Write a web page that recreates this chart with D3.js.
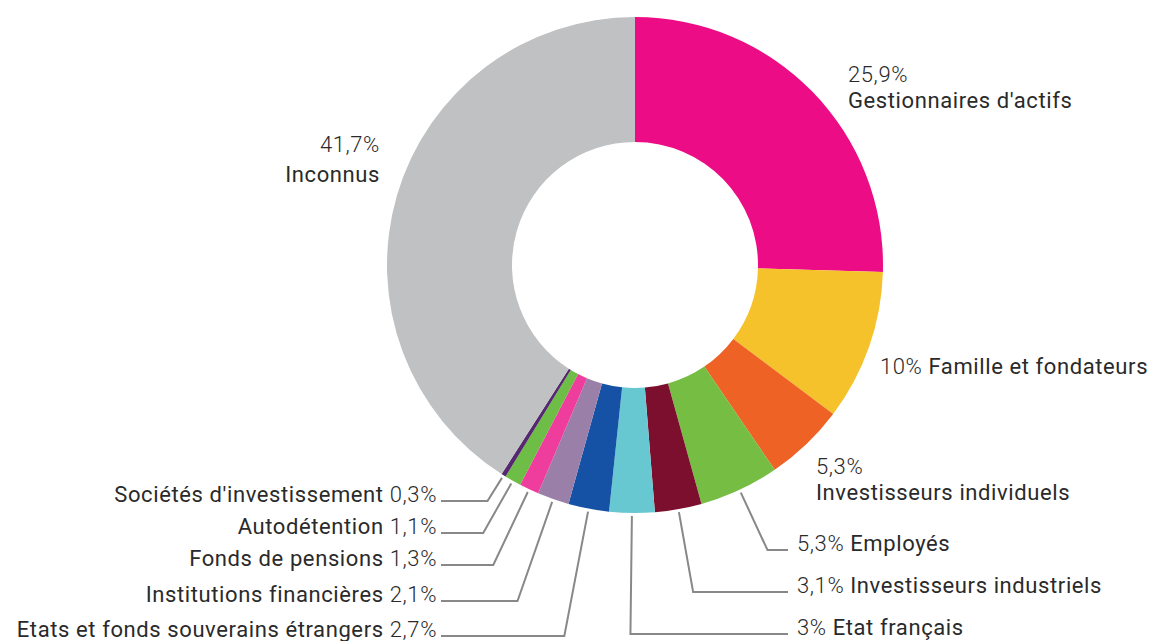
<!DOCTYPE html>
<html>
<head>
<meta charset="utf-8">
<script src="https://cdn.jsdelivr.net/npm/d3@7"></script>
<style>
  body { margin: 0; background: #fff; }
  text { font-family: Roboto, "Noto Sans", sans-serif; fill: #2a2a2a; letter-spacing: 0.6px; }
</style>
</head>
<body>
<div id="canvas"></div>
<script>
// data
var names = ["Gestionnaires d'actifs", "Famille et fondateurs", "Investisseurs individuels", "Employés",
  "Investisseurs industriels", "Etat français", "Etats et fonds souverains étrangers",
  "Institutions financières", "Fonds de pensions", "Autodétention", "Sociétés d'investissement", "Inconnus"];
var values = [25.9, 10, 5.3, 5.3, 3.1, 3, 2.7, 2.1, 1.3, 1.1, 0.3, 41.7];
var colors = ["#ec0c86", "#f6c22c", "#ee6225", "#75be43", "#7c0f2d", "#67c8d2", "#1552a5",
  "#9a80a8", "#ee3d9d", "#6dbd46", "#55286f", "#bfc1c2"];

// label placement (layout only)
var labelPos = [
  {x: 848, y: 82, anchor: "start", mode: "stack"},
  {x: 880, y: 374, anchor: "start", mode: "pctFirst"},
  {x: 816, y: 474, anchor: "start", mode: "stack"},
  {x: 797, y: 551, anchor: "start", mode: "pctFirst", leader: "right"},
  {x: 797, y: 593, anchor: "start", mode: "pctFirst", leader: "right"},
  {x: 797, y: 635, anchor: "start", mode: "pctFirst", leader: "right"},
  {x: 437, y: 637, anchor: "end", mode: "nameFirst", leader: "left"},
  {x: 437, y: 602, anchor: "end", mode: "nameFirst", leader: "left"},
  {x: 437, y: 566, anchor: "end", mode: "nameFirst", leader: "left"},
  {x: 437, y: 534, anchor: "end", mode: "nameFirst", leader: "left"},
  {x: 437, y: 502, anchor: "end", mode: "nameFirst", leader: "left"},
  {x: 380, y: 152, anchor: "end", mode: "stack"}
];

var w = 1149, h = 641;
var cx = 635, cy = 265, R = 248, r0 = 123;

var svg = d3.select("#canvas").append("svg").attr("width", w).attr("height", h);
var g = svg.append("g").attr("transform", "translate(" + cx + "," + cy + ")");

var pie = d3.pie().sort(null).value(function(d) { return d; });
var arcs = pie(values);
var arc = d3.arc().innerRadius(r0).outerRadius(R);

g.selectAll("path.slice").data(arcs).enter().append("path")
  .attr("class", "slice")
  .attr("d", arc)
  .attr("fill", function(d, i) { return colors[i]; });

function pct(v) { return String(v).replace(".", ",") + "%"; }

// leader lines
arcs.forEach(function(d, i) {
  var p = labelPos[i];
  if (!p.leader) return;
  var a = (d.startAngle + d.endAngle) / 2;
  var sx = cx + Math.sin(a) * (R + 3), sy = cy - Math.cos(a) * (R + 3);
  var ly = p.y - 1;
  var ex = sx + (ly - sy) * (Math.sin(a) / -Math.cos(a));
  var endX = p.leader === "left" ? p.x + 4 : p.x - 9;
  svg.append("path")
    .attr("d", d3.line()([[sx, sy], [ex, ly], [endX, ly]]))
    .attr("fill", "none")
    .attr("stroke", "#888")
    .attr("stroke-width", 2);
});

// labels
labelPos.forEach(function(p, i) {
  var t = svg.append("text")
    .attr("x", p.x).attr("y", p.y)
    .attr("text-anchor", p.anchor)
    .style("font-size", "22px");
  if (p.mode === "stack") {
    t.append("tspan").attr("x", p.x).style("font-weight", 300).text(pct(values[i]));
    t.append("tspan").attr("x", p.x).attr("dy", i === 11 ? 30 : 26).text(names[i]);
  } else if (p.mode === "pctFirst") {
    t.append("tspan").style("font-weight", 300).text(pct(values[i]) + " ");
    t.append("tspan").text(names[i]);
  } else {
    t.append("tspan").text(names[i] + " ");
    t.append("tspan").style("font-weight", 300).text(pct(values[i]));
  }
});
</script>
</body>
</html>
